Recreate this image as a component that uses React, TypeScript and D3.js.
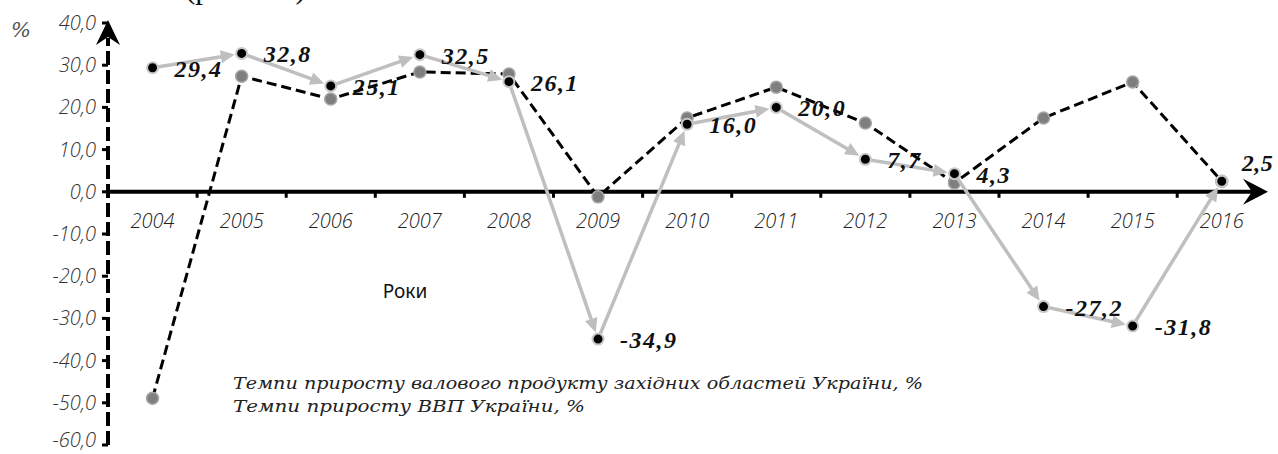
import React from "react";
import * as d3 from "d3";

const years = ["2004", "2005", "2006", "2007", "2008", "2009", "2010", "2011", "2012", "2013", "2014", "2015", "2016"];
// gross product growth, western regions (dashed, grey markers)
const regionGrowth = [-48.9, 27.4, 22.0, 28.4, 27.9, -1.2, 17.5, 24.8, 16.3, 2.1, 17.5, 26.0, 2.5];
// GDP growth of Ukraine (grey arrows, black markers, labelled)
const ukraineGrowth = [29.4, 32.8, 25.1, 32.5, 26.1, -34.9, 16.0, 20.0, 7.7, 4.3, -27.2, -31.8, 2.5];
const yTicks = [40, 30, 20, 10, 0, -10, -20, -30, -40, -50, -60];
const legendLines = [
  "Темпи приросту валового продукту західних областей України, %",
  "Темпи приросту ВВП України, %",
];

const fmt = (v: number) => v.toFixed(1).replace(".", ",");

const App = () => {
  const width = 1278;
  const height = 454;
  const x0 = 108;
  const step = 89.1;

  const x = d3
    .scaleBand<string>()
    .domain(years)
    .range([x0, x0 + step * years.length]);
  const y = d3.scaleLinear().domain([-60, 40]).range([445, 23]);

  const cx = (i: number) => (x(years[i]) as number) + x.bandwidth() / 2;

  const dashed = d3
    .line<number>()
    .x((_, i) => cx(i))
    .y((d) => y(d))(regionGrowth) as string;

  // segments of the GDP line, each one ending in an arrow at the next marker
  const segs = ukraineGrowth.slice(1).map((v, k) => {
    const ax = cx(k), ay = y(ukraineGrowth[k]);
    const bx = cx(k + 1), by = y(v);
    const len = Math.hypot(bx - ax, by - ay);
    const ux = (bx - ax) / len, uy = (by - ay) / len;
    const tipX = bx - ux * 7, tipY = by - uy * 7;
    const baseX = tipX - ux * 14, baseY = tipY - uy * 14;
    const nx = -uy, ny = ux;
    return {
      line: `M${ax},${ay}L${baseX + ux * 2},${baseY + uy * 2}`,
      head: `M${tipX},${tipY}L${baseX + nx * 6.5},${baseY + ny * 6.5}L${baseX - nx * 6.5},${baseY - ny * 6.5}Z`,
    };
  });

  const y0 = y(0);
  const xEnd = 1268;
  const tickFont = "'Open Sans', sans-serif";

  return (
    <svg
      width={width}
      height={height}
      style={{ position: "absolute", left: 0, top: 0, background: "#fff" }}
    >
      {/* cut-off caption from the page above */}
      <text x={185} y={-2} fontFamily="'Liberation Serif', serif" fontSize={31} fill="#111">
        (рис. 2.1)
      </text>

      {/* y axis */}
      <line x1={x0} x2={x0} y1={y(-60)} y2={38} stroke="#000" strokeWidth={4} strokeDasharray="14 5" />
      <path d={`M${x0},20L${x0 + 12},45L${x0},37L${x0 - 12},45Z`} fill="#000" />
      {yTicks.map((t) => (
        <g key={t}>
          <line x1={x0 - 6} x2={x0} y1={y(t)} y2={y(t)} stroke="#000" strokeWidth={3} />
          <text
            x={96}
            y={Math.min(y(t) + 7, 447)}
            textAnchor="end"
            fontFamily={tickFont}
            fontStyle="italic"
            fontWeight={300}
            fontSize={20}
            fill="#333"
          >
            {fmt(t)}
          </text>
        </g>
      ))}
      <text x={11} y={37} fontFamily="'DejaVu Serif', serif" fontStyle="italic" fontSize={21} fill="#555">
        %
      </text>

      {/* x axis */}
      <line x1={x0} x2={xEnd - 10} y1={y0} y2={y0} stroke="#000" strokeWidth={4} />
      <path d={`M${xEnd},${y0}L${xEnd - 25},${y0 - 13}L${xEnd - 16},${y0}L${xEnd - 25},${y0 + 13}Z`} fill="#000" />
      {years.slice(1).map((yr) => (
        <line key={yr} x1={x(yr)} x2={x(yr)} y1={y0} y2={y0 + 6} stroke="#000" strokeWidth={3} />
      ))}
      {years.map((yr, i) => (
        <text
          key={yr}
          x={cx(i)}
          y={228}
          textAnchor="middle"
          fontFamily={tickFont}
          fontStyle="italic"
          fontWeight={300}
          fontSize={20}
          fill="#222"
        >
          {yr}
        </text>
      ))}
      <text x={405} y={298} textAnchor="middle" fontFamily="'Noto Sans', sans-serif" fontSize={19} fill="#111">
        Роки
      </text>

      {/* western regions */}
      <path d={dashed} fill="none" stroke="#000" strokeWidth={3} strokeDasharray="10 5" />
      {regionGrowth.map((v, i) => (
        <circle key={i} cx={cx(i)} cy={y(v)} r={6} fill="#7f7f7f" stroke="#a6a6a6" strokeWidth={1.5} />
      ))}

      {/* Ukraine */}
      {segs.map((s, i) => (
        <g key={i}>
          <path d={s.line} stroke="#bfbfbf" strokeWidth={3.5} fill="none" />
          <path d={s.head} fill="#bfbfbf" />
        </g>
      ))}
      {ukraineGrowth.map((v, i) => (
        <circle key={i} cx={cx(i)} cy={y(v)} r={5.5} fill="#000" stroke="#c8c8c8" strokeWidth={2} />
      ))}
      {ukraineGrowth.map((v, i) => {
        const last = i === ukraineGrowth.length - 1;
        return (
          <text
            key={i}
            x={cx(i) + (last ? 20 : 22)}
            y={y(v) + (last ? -10 : 9)}
            fontFamily="'Liberation Serif', serif"
            fontStyle="italic"
            fontWeight="bold"
            fontSize={24}
            letterSpacing={last ? 0.5 : 1.5}
            fill="#111"
          >
            {fmt(v)}
          </text>
        );
      })}

      {/* legend text */}
      {legendLines.map((t, i) => (
        <text
          key={t}
          x={233}
          y={389 + i * 23}
          fontFamily="'DejaVu Serif', serif"
          fontStyle="italic"
          fontSize={17}
          fill="#222"
          textLength={i === 0 ? 690 : 352}
          lengthAdjust="spacingAndGlyphs"
        >
          {t}
        </text>
      ))}
    </svg>
  );
};

export default App;
